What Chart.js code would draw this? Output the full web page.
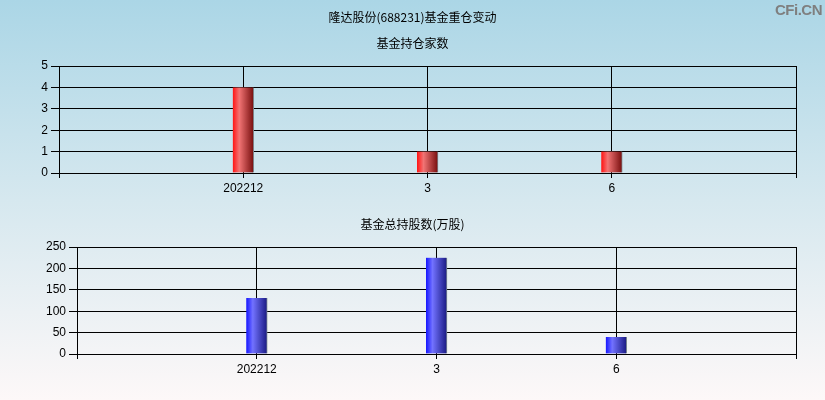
<!DOCTYPE html>
<html>
<head>
<meta charset="utf-8">
<script src="https://cdn.jsdelivr.net/npm/chart.js@4"></script>
<style>
  html, body { margin: 0; padding: 0; }
  body {
    width: 825px; height: 400px; overflow: hidden; position: relative;
    background: linear-gradient(to bottom, #abd6e6 0%, #d6e8ef 50%, #fdf8f8 100%);
  }
  canvas { position: absolute; left: 0; }
  #c1 { top: 0; }
  #c2 { top: 200px; }
  #wm {
    position: absolute; right: 3px; top: 1px;
    font: bold 15px "Liberation Sans", Arial, sans-serif; color: #7f7f7f;
    letter-spacing: -0.5px;
  }
</style>
</head>
<body>
<canvas id="c1" width="825" height="200"></canvas>
<canvas id="c2" width="825" height="200"></canvas>
<div id="wm">CFi.CN</div>
<script>
const mainTitle = '隆达股份(688231)基金重仓变动';
const title1 = '基金持仓家数';
const title2 = '基金总持股数(万股)';
const categories = ['202212', '3', '6'];
const fundCounts = [4, 1, 1];
const fundShares = [131, 225, 40];
const yTicks1 = [0, 1, 2, 3, 4, 5];
const yTicks2 = [0, 50, 100, 150, 200, 250];

const CJK = '"Noto Sans CJK SC", "Noto Sans", sans-serif';
const LAT = '"Liberation Sans", Arial, sans-serif';

function gradFill(stops, solid) {
  return (ctx) => {
    const chart = ctx.chart;
    const xs = chart.scales && chart.scales.x;
    if (!xs || !ctx.parsed) return solid;
    const px = xs.getPixelForValue(ctx.parsed.x);
    if (!isFinite(px)) return solid;
    const g = chart.ctx.createLinearGradient(px - 10, 0, px + 10, 0);
    stops.forEach(s => g.addColorStop(s[0], s[1]));
    return g;
  };
}

function makeChart(id, values, yMax, yStep, stops, solid, leftW, titles, xHeight) {
  return new Chart(document.getElementById(id), {
    type: 'bar',
    data: {
      datasets: [{
        data: values.map((v, i) => ({ x: i + 1, y: v })),
        backgroundColor: gradFill(stops, solid),
        borderColor: '#7d8a90',
        borderWidth: { top: 0, right: 1, bottom: 0, left: 0 },
        borderSkipped: false,
        barThickness: 21
      }]
    },
    options: {
      responsive: false,
      animation: false,
      layout: { padding: { left: 29, right: 29, top: 0, bottom: 0 } },
      plugins: {
        legend: { display: false },
        tooltip: { enabled: false },
        title: titles.title,
        subtitle: titles.subtitle || { display: false }
      },
      scales: {
        x: {
          type: 'linear', min: 0, max: categories.length + 1, offset: false,
          afterFit: (s) => { s.height = xHeight; },
          grid: { color: '#000', lineWidth: 1, tickLength: 5, tickColor: '#000', offset: false },
          border: { color: '#000', width: 1 },
          ticks: {
            stepSize: 1, autoSkip: false, maxRotation: 0, padding: 3,
            color: '#000', font: { family: LAT, size: 12 },
            callback: (v) => categories[v - 1] !== undefined ? categories[v - 1] : ''
          }
        },
        y: {
          min: 0, max: yMax,
          afterFit: (s) => { s.width = leftW - 29; },
          grid: { color: '#000', lineWidth: 1, tickLength: 8, tickColor: '#000' },
          border: { color: '#000', width: 1 },
          ticks: { stepSize: yStep, padding: 3, color: '#000', font: { family: LAT, size: 12 } }
        }
      }
    }
  });
}

makeChart('c1', fundCounts, yTicks1[yTicks1.length - 1], yTicks1[1] - yTicks1[0],
  [[0, '#ff1a1a'], [0.3, '#f27474'], [1, '#7a1010']], '#e03030', 59, {
    title: { display: true, text: mainTitle, color: '#000',
      font: { family: CJK, size: 12, weight: 'normal' }, padding: { top: 10, bottom: 5 } },
    subtitle: { display: true, text: title1, color: '#000',
      font: { family: CJK, size: 12, weight: 'normal' }, padding: { top: 6.4, bottom: 15.8 } }
  }, 27);

makeChart('c2', fundShares, yTicks2[yTicks2.length - 1], yTicks2[1] - yTicks2[0],
  [[0, '#1c1cff'], [0.3, '#7272ff'], [1, '#1c1c86']], '#3030e0', 77, {
    title: { display: true, text: title2, color: '#000',
      font: { family: CJK, size: 12, weight: 'normal' }, padding: { top: 16.8, bottom: 15.8 } }
  }, 46);
</script>
</body>
</html>
